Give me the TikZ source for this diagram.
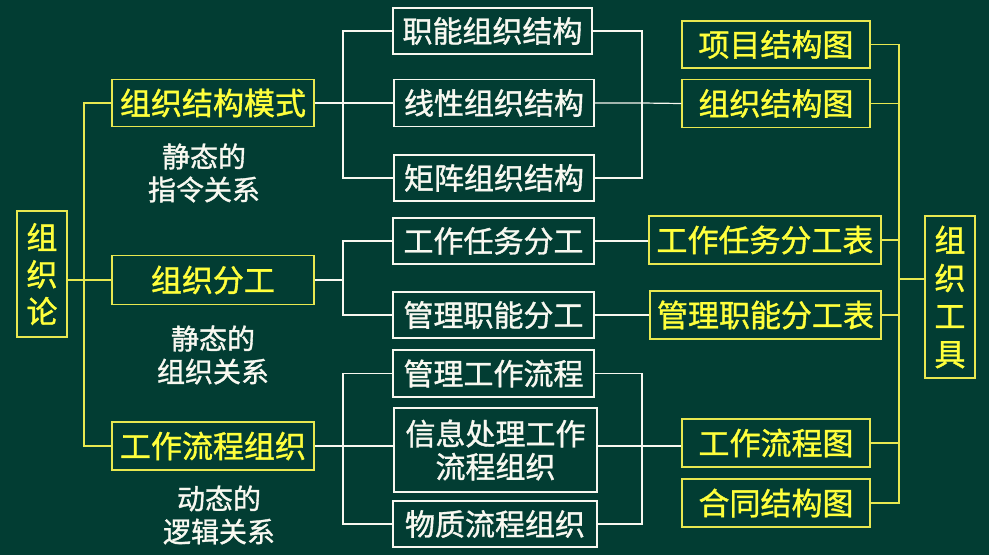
\documentclass[tikz,border=0pt]{standalone}
\usepackage{fontspec}
\setmainfont{Noto Sans CJK SC}[BoldFont=Noto Sans CJK SC, BoldFeatures={FakeBold=1.2}]
\definecolor{bgc}{RGB}{2,61,51}
\definecolor{ytxt}{RGB}{255,255,60}
\definecolor{ybrd}{RGB}{232,232,80}
\definecolor{wtxt}{RGB}{248,248,240}
\tikzset{
  ybox/.style={draw=ybrd, line width=1.3pt, text=ytxt, inner sep=0pt, align=center, font=\fontsize{31}{37}\selectfont\bfseries},
  wbox/.style={draw=wtxt, line width=1.2pt, text=wtxt, inner sep=0pt, align=center, font=\fontsize{30}{33}\selectfont\bfseries},
  lab/.style={text=wtxt, align=center, font=\fontsize{28}{33}\selectfont\bfseries, inner sep=0pt},
  yline/.style={draw=ybrd, line width=1.3pt},
  wline/.style={draw=wtxt, line width=1.2pt},
}
\begin{document}
\begin{tikzpicture}[x=1pt,y=-1pt]
\fill[bgc] (0,0) rectangle (989,555);
\useasboundingbox (0,0) rectangle (989,555);
% left column
\node[ybox, minimum width=50pt, minimum height=126pt, font=\fontsize{31}{37}\selectfont\bfseries] (zzl) at (42,274) {组\\织\\论};
\node[ybox, minimum width=202pt, minimum height=47pt] (m1) at (213,103) {组织结构模式};
\node[ybox, minimum width=202pt, minimum height=49pt] (m2) at (213,280) {组织分工};
\node[ybox, minimum width=202pt, minimum height=48pt] (m3) at (213,446) {工作流程组织};
\node[lab] (l1) at (204,173) {静态的\\指令关系};
\node[lab] (l2) at (213,355) {静态的\\组织关系};
\node[lab] (l3) at (219,515) {动态的\\逻辑关系};
% middle column
\node[wbox, minimum width=199pt, minimum height=46pt] (a1) at (492.5,31) {职能组织结构};
\node[wbox, minimum width=200pt, minimum height=47pt] (a2) at (494,103) {线性组织结构};
\node[wbox, minimum width=200pt, minimum height=46pt] (a3) at (494,178) {矩阵组织结构};
\node[wbox, minimum width=201pt, minimum height=46pt] (b1) at (493.5,241) {工作任务分工};
\node[wbox, minimum width=201pt, minimum height=46pt] (b2) at (493.5,315) {管理职能分工};
\node[wbox, minimum width=201pt, minimum height=47pt] (c1) at (493.5,373.5) {管理工作流程};
\node[wbox, minimum width=203pt, minimum height=84pt] (c2) at (495.5,450) {信息处理工作\\流程组织};
\node[wbox, minimum width=204pt, minimum height=46pt] (c3) at (495,524) {物质流程组织};
% right column
\node[ybox, minimum width=188pt, minimum height=47pt] (r1) at (776,44.5) {项目结构图};
\node[ybox, minimum width=188pt, minimum height=48pt] (r2) at (776,103.5) {组织结构图};
\node[ybox, minimum width=232pt, minimum height=48pt] (r3) at (765,240) {工作任务分工表};
\node[ybox, minimum width=231pt, minimum height=48pt] (r4) at (765.5,315) {管理职能分工表};
\node[ybox, minimum width=188pt, minimum height=48pt] (r5) at (776,443) {工作流程图};
\node[ybox, minimum width=188pt, minimum height=48pt] (r6) at (776,503) {合同结构图};
\node[ybox, minimum width=50pt, minimum height=162pt, font=\fontsize{31}{38}\selectfont\bfseries] (zzgj) at (950,297) {组\\织\\工\\具};
% coordinates
\coordinate (tL1) at (84,103);
\coordinate (tL2) at (84,446);
\coordinate (ba) at (343,103);
\coordinate (bA) at (642,103);
\coordinate (bb) at (343,280);
\coordinate (bc) at (343,446);
\coordinate (bC) at (642,446);
\coordinate (tR) at (899,279);
% left trunk
\draw[yline] (m1.west) -- (tL1) -- (tL2) -- (m3.west);
\draw[yline] (zzl.east |- m2.west) -- (m2.west);
% group A
\draw[wline] (m1.east) -- (ba) -- (a2.west);
\draw[wline] (a1.west) -| (ba) |- (a3.west);
\draw[wline] (a1.east) -| (bA) |- (a3.east);
\draw[wline] (a2.east) -- (bA) -- (r2.west);
% group B
\draw[wline] (m2.east) -- (bb);
\draw[wline] (b1.west) -| (bb) |- (b2.west);
\draw[wline] (b1.east) -- (b1.east -| r3.west);
\draw[wline] (b2.east) -- (r4.west);
% group C
\draw[wline] (m3.east) -- (bc) -- (bc -| c2.west);
\draw[wline] (c1.west) -| (bc) |- (c3.west);
\draw[wline] (c1.east) -| (bC) |- (c3.east);
\draw[wline] (c2.east |- bC) -- (bC) -- (bC -| r5.west);
% right trunk
\draw[yline] (r1.east) -| (tR) |- (r6.east);
\draw[yline] (r2.east) -- (r2.east -| tR);
\draw[yline] (r3.east) -- (r3.east -| tR);
\draw[yline] (r4.east) -- (r4.east -| tR);
\draw[yline] (r5.east) -- (r5.east -| tR);
\draw[yline] (tR) -- (tR -| zzgj.west);
\end{tikzpicture}
\end{document}
